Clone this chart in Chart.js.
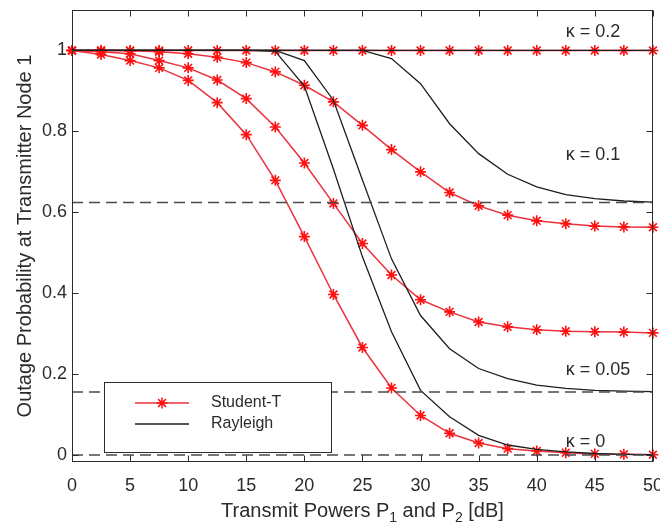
<!DOCTYPE html>
<html lang="en">
<head>
<meta charset="UTF-8">
<title>Outage Probability at Transmitter Node 1</title>
<script src="https://cdn.jsdelivr.net/npm/chart.js"></script>
<style>
  body { margin: 0; background: #ffffff; }
  canvas { display: block; }
</style>
</head>
<body>
<canvas id="chart" width="660" height="527"></canvas>
<script>
// transmit power P1 = P2 [dB]
const powers = [0, 2.5, 5, 7.5, 10, 12.5, 15, 17.5, 20, 22.5, 25, 27.5, 30, 32.5, 35, 37.5, 40, 42.5, 45, 47.5, 50];

// Student-T fading, one series per kappa
const studentK0   = [1, 0.990, 0.975, 0.957, 0.926, 0.871, 0.792, 0.679, 0.540, 0.397, 0.266, 0.166, 0.098, 0.054, 0.030, 0.016, 0.010, 0.006, 0.003, 0.002, 0.001];
const studentK005 = [1, 0.997, 0.992, 0.975, 0.957, 0.927, 0.881, 0.811, 0.722, 0.622, 0.523, 0.445, 0.384, 0.354, 0.329, 0.317, 0.310, 0.306, 0.305, 0.304, 0.302];
const studentK01  = [1, 1, 0.999, 0.997, 0.992, 0.983, 0.970, 0.947, 0.914, 0.873, 0.815, 0.755, 0.700, 0.649, 0.616, 0.593, 0.579, 0.572, 0.566, 0.564, 0.563];
const studentK02  = [1, 1, 1, 1, 1, 1, 1, 1, 1, 1, 1, 1, 1, 1, 1, 1, 1, 1, 1, 1, 1];

// Rayleigh fading
const rayleighK0   = [1, 1, 1, 1, 1, 1, 1, 0.998, 0.912, 0.707, 0.490, 0.305, 0.160, 0.095, 0.049, 0.025, 0.014, 0.008, 0.004, 0.002, 0.001];
const rayleighK005 = [1, 1, 1, 1, 1, 1, 1, 1, 0.975, 0.877, 0.680, 0.485, 0.345, 0.263, 0.214, 0.189, 0.173, 0.165, 0.160, 0.158, 0.157];
const rayleighK01  = [1, 1, 1, 1, 1, 1, 1, 1, 1, 1, 1, 0.980, 0.918, 0.819, 0.745, 0.694, 0.663, 0.644, 0.634, 0.628, 0.625];
const rayleighK02  = [1, 1, 1, 1, 1, 1, 1, 1, 1, 1, 1, 1, 1, 1, 1, 1, 1, 1, 1, 1, 1];

// dashed floors
const floors = [0.624, 0.156, 0];

const kappaLabels = ['κ = 0.2', 'κ = 0.1', 'κ = 0.05', 'κ = 0'];
const kappaLabelAt = [[42.5, 1.045], [42.5, 0.742], [42.5, 0.21], [42.5, 0.032]];

const xTicks = [0, 5, 10, 15, 20, 25, 30, 35, 40, 45, 50];
const yTicks = [0, 0.2, 0.4, 0.6, 0.8, 1];

const FONT = "'Liberation Sans', Arial, Helvetica, sans-serif";
const TXT = '#2b2b2b';
const RED = '#ff1010';
const RED_LINE = 'rgb(235, 50, 60)';
const BLACK = '#1e1e1e';

const pts = ys => powers.map((p, i) => ({ x: p, y: ys[i] }));

const studentSet = ys => ({
  label: 'Student-T', data: pts(ys),
  borderColor: RED_LINE, borderWidth: 1.5,
  pointStyle: 'star', pointRadius: 5.5, pointBorderColor: RED, pointBorderWidth: 1.6,
  pointBackgroundColor: RED, clip: false, order: 2
});
const rayleighSet = ys => ({
  label: 'Rayleigh', data: pts(ys),
  borderColor: BLACK, borderWidth: 1.3, pointRadius: 0, order: 1
});
const floorSet = v => ({
  label: 'floor', data: [{ x: 0, y: v }, { x: 50, y: v }],
  borderColor: '#4a4a4a', borderWidth: 1.5, borderDash: [11, 6], pointRadius: 0, order: 0
});

// no automatic room for half tick labels at the ends
const noEdgePad = s => { s.paddingLeft = 0; s.paddingRight = 0; s.paddingTop = 0; s.paddingBottom = 0; };

// box, inward ticks, kappa notes, legend and axis titles
const matlabLook = {
  id: 'matlabLook',
  afterDraw(chart) {
    const { ctx, chartArea: a, scales: { x, y } } = chart;
    const L = Math.round(a.left) + 0.5, R = Math.round(a.right) - 0.5;
    const T = Math.round(a.top) + 0.5, B = Math.round(a.bottom) - 0.5;
    ctx.save();
    ctx.strokeStyle = TXT;
    ctx.lineWidth = 1;
    ctx.strokeRect(L, T, R - L, B - T);
    ctx.beginPath();
    xTicks.forEach(v => {
      const px = Math.round(x.getPixelForValue(v)) + 0.5;
      ctx.moveTo(px, B); ctx.lineTo(px, B - 6);
      ctx.moveTo(px, T); ctx.lineTo(px, T + 6);
    });
    yTicks.forEach(v => {
      const py = Math.round(y.getPixelForValue(v)) + 0.5;
      ctx.moveTo(L, py); ctx.lineTo(L + 6, py);
      ctx.moveTo(R, py); ctx.lineTo(R - 6, py);
    });
    ctx.stroke();

    // kappa notes
    ctx.fillStyle = TXT;
    ctx.font = '18px ' + FONT;
    ctx.textAlign = 'left';
    ctx.textBaseline = 'middle';
    kappaLabels.forEach((t, i) => {
      ctx.fillText(t, x.getPixelForValue(kappaLabelAt[i][0]), y.getPixelForValue(kappaLabelAt[i][1]));
    });

    // legend
    const lx = 104, ly = 382, lw = 227, lh = 70;
    ctx.fillStyle = '#ffffff';
    ctx.fillRect(lx, ly, lw, lh);
    ctx.strokeStyle = TXT;
    ctx.strokeRect(lx + 0.5, ly + 0.5, lw, lh);
    const rows = [{ t: 'Student-T', c: RED_LINE, star: true, yy: 403 }, { t: 'Rayleigh', c: BLACK, star: false, yy: 424 }];
    rows.forEach(r => {
      ctx.strokeStyle = r.c;
      ctx.lineWidth = 1.5;
      ctx.beginPath(); ctx.moveTo(135, r.yy); ctx.lineTo(189, r.yy); ctx.stroke();
      if (r.star) {
        ctx.strokeStyle = RED;
        ctx.beginPath();
        for (let k = 0; k < 4; k++) {
          const ang = k * Math.PI / 4;
          ctx.moveTo(162 - 5.5 * Math.cos(ang), r.yy - 5.5 * Math.sin(ang));
          ctx.lineTo(162 + 5.5 * Math.cos(ang), r.yy + 5.5 * Math.sin(ang));
        }
        ctx.stroke();
      }
      ctx.fillStyle = TXT;
      ctx.font = '16px ' + FONT;
      ctx.textBaseline = 'middle';
      ctx.fillText(r.t, 211, r.yy);
    });

    // y title
    ctx.font = '20px ' + FONT;
    ctx.textBaseline = 'alphabetic';
    ctx.save();
    ctx.translate(31, (a.top + a.bottom) / 2);
    ctx.rotate(-Math.PI / 2);
    ctx.textAlign = 'center';
    ctx.fillText('Outage Probability at Transmitter Node 1', 0, 0);
    ctx.restore();

    // x title with subscripts
    const parts = [['Transmit Powers P', 0], ['1', 1], [' and P', 0], ['2', 1], [' [dB]', 0]];
    const fontOf = s => (s ? '14px ' : '20px ') + FONT;
    let w = 0;
    parts.forEach(p => { ctx.font = fontOf(p[1]); w += ctx.measureText(p[0]).width; });
    let cx = (a.left + a.right) / 2 - w / 2;
    ctx.textAlign = 'left';
    parts.forEach(p => {
      ctx.font = fontOf(p[1]);
      ctx.fillText(p[0], cx, p[1] ? 522 : 517);
      cx += ctx.measureText(p[0]).width;
    });
    ctx.restore();
  }
};

new Chart(document.getElementById('chart'), {
  type: 'line',
  data: {
    datasets: [
      studentSet(studentK0), studentSet(studentK005), studentSet(studentK01), studentSet(studentK02),
      rayleighSet(rayleighK0), rayleighSet(rayleighK005), rayleighSet(rayleighK01), rayleighSet(rayleighK02),
      ...floors.map(floorSet)
    ]
  },
  options: {
    responsive: false,
    animation: false,
    layout: { padding: { top: 10, right: 6, left: 0, bottom: 0 } },
    plugins: { legend: { display: false }, tooltip: { enabled: false } },
    scales: {
      x: {
        type: 'linear', min: 0, max: 50,
        afterBuildTicks: s => { s.ticks = xTicks.map(v => ({ value: v })); },
        afterFit: s => { s.height = 65; noEdgePad(s); },
        grid: { display: false, drawTicks: false },
        border: { display: false },
        ticks: { font: { family: FONT, size: 18 }, color: TXT, padding: 13, maxRotation: 0, autoSkip: false }
      },
      y: {
        type: 'linear', min: -0.017, max: 1.1,
        afterBuildTicks: s => { s.ticks = yTicks.map(v => ({ value: v })); },
        afterFit: s => { s.width = 72; noEdgePad(s); },
        grid: { display: false, drawTicks: false },
        border: { display: false },
        ticks: { font: { family: FONT, size: 18 }, color: TXT, padding: 5, callback: v => String(v) }
      }
    }
  },
  plugins: [matlabLook]
});
</script>
</body>
</html>
